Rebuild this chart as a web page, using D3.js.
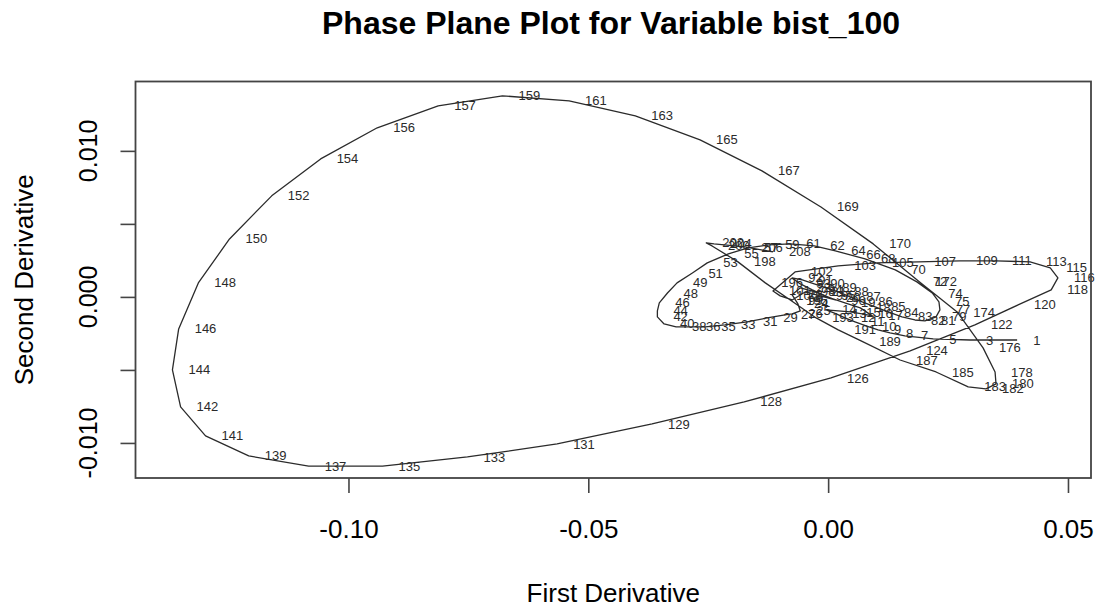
<!DOCTYPE html>
<html>
<head>
<meta charset="utf-8">
<title>Phase Plane Plot</title>
<script src="https://cdn.jsdelivr.net/npm/d3@7"></script>
<style>
	body { margin: 0; background: #fff; }
	svg { display: block; font-family: "Liberation Sans", Arial, sans-serif; }
</style>
</head>
<body>
<div id="chart"></div>
<script>
/*
	Phase plane plot: first vs second derivative
*/

// Day index of each labelled point
const dayLabels = [
	1, 3, 5, 7, 8, 9, 10, 11, 12, 13,
	14, 15, 16, 17, 18, 19, 20, 21, 22, 23,
	24, 25, 26, 27, 29, 31, 33, 35, 36, 38,
	40, 42, 44, 46, 48, 49, 51, 53, 55, 57,
	59, 61, 62, 64, 66, 68, 70, 72, 74, 75,
	77, 79, 81, 82, 83, 84, 85, 86, 87, 88,
	89, 90, 91, 92, 93, 94, 95, 96, 97, 98,
	99, 100, 101, 102, 103, 105, 107, 109, 111, 113,
	115, 116, 118, 120, 122, 124, 126, 128, 129, 131,
	133, 135, 137, 139, 141, 142, 144, 146, 148, 150,
	152, 154, 156, 157, 159, 161, 163, 165, 167, 169,
	170, 172, 174, 176, 178, 180, 182, 183, 185, 187,
	189, 191, 193, 195, 196, 198, 200, 202, 204, 206,
	208
];

// First derivative (x)
const firstDeriv = [
	0.0394, 0.0296, 0.0219, 0.0160, 0.0129, 0.0104, 0.0079, 0.0056, 0.0035, 0.0017,
	-0.0004, 0.0046, 0.0071, 0.0092, 0.0067, 0.0035, 0.0004, -0.0027, -0.0058, -0.0075,
	-0.0063, -0.0058, -0.0075, -0.0090, -0.0127, -0.0169, -0.0215, -0.0256, -0.0288, -0.0317,
	-0.0342, -0.0356, -0.0356, -0.0352, -0.0335, -0.0315, -0.0283, -0.0252, -0.0208, -0.0167,
	-0.0123, -0.0079, -0.0029, 0.0015, 0.0046, 0.0077, 0.0140, 0.0185, 0.0217, 0.0231,
	0.0233, 0.0225, 0.0202, 0.0181, 0.0154, 0.0125, 0.0098, 0.0071, 0.0046, 0.0021,
	-0.0004, -0.0029, -0.0054, -0.0075, -0.0058, -0.0033, -0.0006, 0.0015, -0.0017, -0.0048,
	-0.0075, -0.0100, -0.0115, -0.0069, 0.0021, 0.0100, 0.0188, 0.0275, 0.0350, 0.0421,
	0.0463, 0.0479, 0.0465, 0.0396, 0.0306, 0.0171, 0.0006, -0.0175, -0.0367, -0.0565,
	-0.0752, -0.0929, -0.1083, -0.1208, -0.1298, -0.1350, -0.1367, -0.1354, -0.1313, -0.1248,
	-0.1160, -0.1058, -0.0940, -0.0813, -0.0679, -0.0540, -0.0402, -0.0267, -0.0138, -0.0015,
	0.0094, 0.0190, 0.0269, 0.0323, 0.0348, 0.0350, 0.0329, 0.0292, 0.0225, 0.0150,
	0.0073, 0.0021, -0.0025, -0.0079, -0.0131, -0.0188, -0.0242, -0.0254, -0.0238, -0.0173,
	-0.0115
];

// Second derivative (y)
const secondDeriv = [
	-0.00295, -0.00295, -0.00288, -0.00267, -0.00247, -0.00226, -0.00199, -0.00171, -0.00144, -0.00116,
	-0.00089, -0.00103, -0.00116, -0.00130, -0.00075, -0.00041, -0.00007, 0.00034, 0.00062, 0.00014,
	-0.00048, -0.00096, -0.00116, -0.00123, -0.00144, -0.00171, -0.00192, -0.00205, -0.00205, -0.00205,
	-0.00185, -0.00137, -0.00096, -0.00041, 0.00027, 0.00096, 0.00164, 0.00233, 0.00295, 0.00336,
	0.00356, 0.00363, 0.00349, 0.00315, 0.00288, 0.00260, 0.00185, 0.00103, 0.00027, -0.00034,
	-0.00089, -0.00137, -0.00164, -0.00158, -0.00137, -0.00103, -0.00068, -0.00034, 0.00000, 0.00034,
	0.00062, 0.00089, 0.00116, 0.00130, 0.00089, 0.00048, 0.00007, -0.00021, 0.00007, 0.00034,
	-0.00021, 0.00007, 0.00041, 0.00171, 0.00212, 0.00233, 0.00240, 0.00247, 0.00247, 0.00240,
	0.00199, 0.00130, 0.00048, -0.00055, -0.00192, -0.00370, -0.00555, -0.00719, -0.00870, -0.01007,
	-0.01096, -0.01158, -0.01158, -0.01089, -0.00952, -0.00753, -0.00500, -0.00219, 0.00096, 0.00397,
	0.00692, 0.00945, 0.01158, 0.01308, 0.01377, 0.01342, 0.01240, 0.01075, 0.00863, 0.00616,
	0.00363, 0.00103, -0.00103, -0.00349, -0.00514, -0.00596, -0.00630, -0.00616, -0.00514, -0.00432,
	-0.00308, -0.00226, -0.00144, -0.00021, 0.00096, 0.00240, 0.00349, 0.00370, 0.00363, 0.00342,
	0.00308
];

// Axis ticks
const xTicks = [-0.10, -0.05, 0.00, 0.05];
const xTickLabels = ["-0.10", "-0.05", "0.00", "0.05"];
const yTicks = [-0.010, -0.005, 0.000, 0.005, 0.010];
const yTickLabels = ["-0.010", "", "0.000", "", "0.010"];

// Defining phase-plane class
class PhasePlot{

	constructor(_parentElement, _width, _height){
		this.parentElement = _parentElement;
		this.svgWidth = _width;
		this.svgHeight = _height;

		this.initializeChart();
	}

	initializeChart(){
		const vis = this;

		// Plot box
		vis.box = {left: 135.5, right: 1091, top: 81.5, bottom: 478};

		vis.svg = d3.select(vis.parentElement).append("svg")
			.attr("width", vis.svgWidth)
			.attr("height", vis.svgHeight);

		// Scales (R pads the data range by 4%)
		vis.x = d3.scaleLinear()
			.domain([-0.1444, 0.0548])
			.range([vis.box.left, vis.box.right]);

		vis.y = d3.scaleLinear()
			.domain([-0.0124, 0.01475])
			.range([vis.box.bottom, vis.box.top]);

		vis.wrangleData();
	}

	wrangleData(){
		const vis = this;

		vis.points = dayLabels.map((d, i) => ({
			day: d,
			fd: firstDeriv[i],
			sd: secondDeriv[i]
		}));

		vis.updateChart();
	}

	updateChart(){
		const vis = this;

		// Trajectory
		const line = d3.line()
			.x(d => vis.x(d.fd))
			.y(d => vis.y(d.sd));

		vis.svg.append("path")
			.datum(vis.points)
			.attr("d", line)
			.attr("fill", "none")
			.attr("stroke", "#2b2b2b")
			.attr("stroke-width", 1.3)
			.attr("stroke-linejoin", "round");

		// Day labels, to the right of each point
		vis.svg.append("g").selectAll("text")
			.data(vis.points)
			.enter().append("text")
			.attr("x", d => vis.x(d.fd) + 16)
			.attr("y", d => vis.y(d.sd))
			.attr("dy", "0.35em")
			.attr("font-size", 13)
			.attr("fill", "#2a2a2a")
			.text(d => d.day);

		// Box
		vis.svg.append("rect")
			.attr("x", vis.box.left)
			.attr("y", vis.box.top)
			.attr("width", vis.box.right - vis.box.left)
			.attr("height", vis.box.bottom - vis.box.top)
			.attr("fill", "none")
			.attr("stroke", "#444")
			.attr("stroke-width", 1.8);

		// X axis
		const xAxis = d3.axisBottom(vis.x)
			.tickValues(xTicks)
			.tickSize(15)
			.tickPadding(27)
			.tickFormat((d, i) => xTickLabels[i]);

		const gx = vis.svg.append("g")
			.attr("transform", "translate(0," + vis.box.bottom + ")")
			.call(xAxis);
		gx.select(".domain").remove();
		gx.selectAll("line").attr("stroke", "#444").attr("stroke-width", 1.6);
		gx.selectAll("text")
			.attr("font-family", "Liberation Sans, Arial, sans-serif")
			.attr("font-size", 26)
			.attr("fill", "#000");

		// Y axis (labels rotated, as in base R)
		const yAxis = d3.axisLeft(vis.y)
			.tickValues(yTicks)
			.tickSize(15)
			.tickFormat("");

		const gy = vis.svg.append("g")
			.attr("transform", "translate(" + vis.box.left + ",0)")
			.call(yAxis);
		gy.select(".domain").remove();
		gy.selectAll("line").attr("stroke", "#444").attr("stroke-width", 1.6);

		vis.svg.append("g").selectAll("text")
			.data(yTicks)
			.enter().append("text")
			.attr("transform", d => "translate(97," + vis.y(d) + ") rotate(-90)")
			.attr("text-anchor", "middle")
			.attr("font-size", 25)
			.attr("fill", "#000")
			.text((d, i) => yTickLabels[i]);

		// Axis titles
		vis.svg.append("text")
			.attr("x", (vis.box.left + vis.box.right) / 2)
			.attr("y", 602)
			.attr("text-anchor", "middle")
			.attr("font-size", 26)
			.text("First Derivative");

		vis.svg.append("text")
			.attr("transform", "translate(33," + (vis.box.top + vis.box.bottom) / 2 + ") rotate(-90)")
			.attr("text-anchor", "middle")
			.attr("font-size", 26)
			.text("Second Derivative");

		// Title
		vis.svg.append("text")
			.attr("x", 611)
			.attr("y", 34)
			.attr("text-anchor", "middle")
			.attr("font-size", 32)
			.attr("font-weight", "bold")
			.text("Phase Plane Plot for Variable bist_100");
	}
}

new PhasePlot("#chart", 1105, 611);
</script>
</body>
</html>
